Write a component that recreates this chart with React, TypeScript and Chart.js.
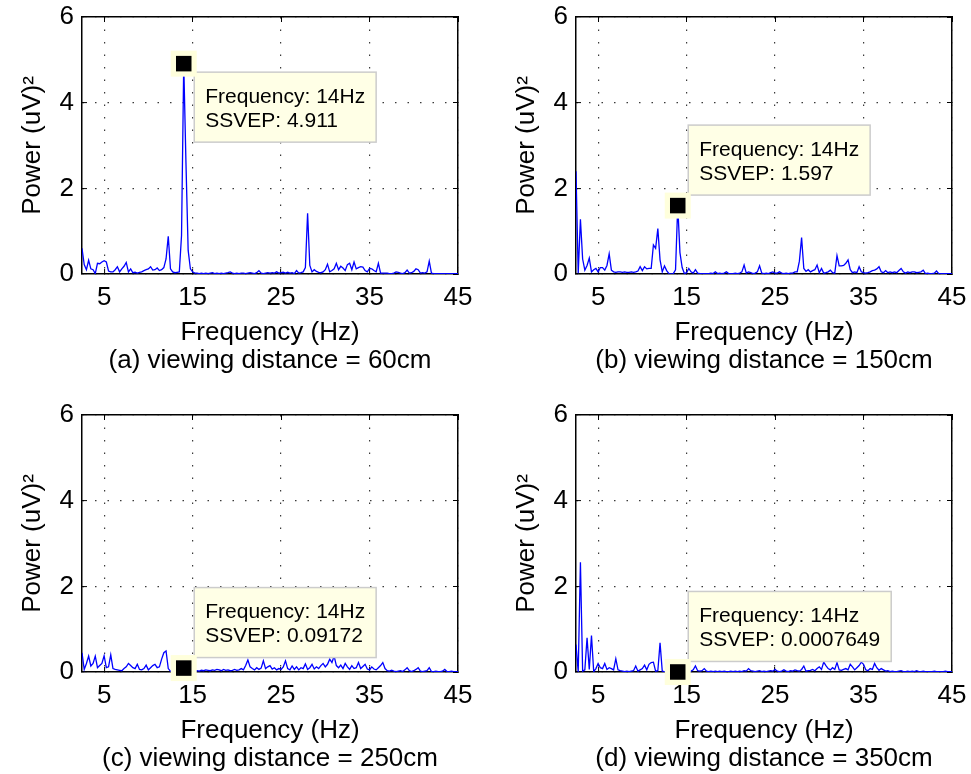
import React, { useEffect, useRef } from 'react';
import { Chart, registerables } from 'chart.js';

Chart.register(...registerables);

const FONT = "'Liberation Sans', Arial, Helvetica, sans-serif";

// Spectrum sampling: 2.5 Hz to 45 Hz in 0.25 Hz bins
const FREQ_START = 2.5;
const FREQ_STEP = 0.25;
const X_MIN = 2.5;
const X_MAX = 45;
const X_TICKS = [5, 15, 25, 35, 45];
const Y_TICKS = [0, 2, 4, 6];
const STIM_FREQ = 14;

// Power spectra (uV)^2, one row per Hz (x.00, x.25, x.50, x.75)
const POWER_60CM = [
  0.60, 0.22, // 2.5
  0.10, 0.32, 0.12, 0.10, // 3
  0.01, 0.25, 0.24, 0.28, // 4
  0.31, 0.28, 0.07, 0.05, // 5
  0.05, 0.10, 0.17, 0.05, // 6
  0.12, 0.18, 0.27, 0.05, // 7
  0.12, 0.03, 0.04, 0.02, // 8
  0.04, 0.05, 0.08, 0.10, // 9
  0.12, 0.17, 0.09, 0.10, // 10
  0.14, 0.08, 0.10, 0.15, // 11
  0.35, 0.88, 0.12, 0.05, // 12
  0.03, 0.04, 0.05, 0.90, // 13
  4.911, 2.60, 0.55, 0.12, // 14
  0.05, 0.02, 0.02, 0.01, // 15
  0.02, 0.01, 0.02, 0.01, // 16
  0.02, 0.03, 0.01, 0.02, // 17
  0.01, 0.02, 0.01, 0.02, // 18
  0.03, 0.05, 0.02, 0.01, // 19
  0.02, 0.01, 0.02, 0.02, // 20
  0.01, 0.02, 0.03, 0.02, // 21
  0.01, 0.03, 0.08, 0.02, // 22
  0.01, 0.02, 0.03, 0.02, // 23
  0.03, 0.02, 0.05, 0.02, // 24
  0.03, 0.04, 0.02, 0.04, // 25
  0.02, 0.03, 0.01, 0.08, // 26
  0.02, 0.03, 0.05, 0.15, // 27
  1.42, 0.20, 0.05, 0.10, // 28
  0.06, 0.04, 0.03, 0.05, // 29
  0.10, 0.23, 0.05, 0.08, // 30
  0.12, 0.25, 0.10, 0.18, // 31
  0.14, 0.08, 0.22, 0.25, // 32
  0.10, 0.28, 0.12, 0.15, // 33
  0.17, 0.16, 0.08, 0.05, // 34
  0.13, 0.12, 0.08, 0.05, // 35
  0.25, 0.02, 0.02, 0.02, // 36
  0.02, 0.01, 0.01, 0.02, // 37
  0.05, 0.04, 0.02, 0.01, // 38
  0.03, 0.09, 0.02, 0.03, // 39
  0.06, 0.12, 0.10, 0.02, // 40
  0.03, 0.02, 0.05, 0.30, // 41
  0.02, 0.01, 0.01, 0.01, // 42
  0.01, 0.01, 0.01, 0.01, // 43
  0.01, 0.01, 0.01, 0.01, // 44
  0.01, // 45
];

const POWER_150CM = [
  2.40, 0.02, // 2.5
  1.28, 0.35, 0.09, 0.20, // 3
  0.37, 0.05, 0.10, 0.13, // 4
  0.05, 0.15, 0.15, 0.09, // 5
  0.20, 0.47, 0.09, 0.05, // 6
  0.04, 0.05, 0.05, 0.04, // 7
  0.05, 0.04, 0.04, 0.05, // 8
  0.04, 0.05, 0.07, 0.17, // 9
  0.08, 0.17, 0.12, 0.13, // 10
  0.13, 0.68, 0.60, 1.06, // 11
  0.33, 0.05, 0.19, 0.08, // 12
  0.01, 0.00, 0.01, 0.10, // 13
  1.597, 0.50, 0.15, 0.01, // 14
  0.03, 0.13, 0.05, 0.02, // 15
  0.10, 0.02, 0.01, 0.01, // 16
  0.01, 0.01, 0.01, 0.02, // 17
  0.01, 0.05, 0.01, 0.02, // 18
  0.01, 0.02, 0.05, 0.01, // 19
  0.01, 0.01, 0.02, 0.01, // 20
  0.02, 0.05, 0.21, 0.02, // 21
  0.05, 0.03, 0.01, 0.02, // 22
  0.05, 0.19, 0.02, 0.01, // 23
  0.02, 0.01, 0.03, 0.05, // 24
  0.02, 0.02, 0.05, 0.02, // 25
  0.01, 0.02, 0.01, 0.02, // 26
  0.02, 0.05, 0.05, 0.30, // 27
  0.85, 0.13, 0.06, 0.10, // 28
  0.05, 0.08, 0.10, 0.21, // 29
  0.03, 0.13, 0.02, 0.03, // 30
  0.05, 0.09, 0.03, 0.02, // 31
  0.43, 0.19, 0.19, 0.20, // 32
  0.25, 0.33, 0.10, 0.03, // 33
  0.05, 0.03, 0.17, 0.05, // 34
  0.03, 0.02, 0.03, 0.05, // 35
  0.08, 0.09, 0.12, 0.17, // 36
  0.05, 0.03, 0.08, 0.03, // 37
  0.05, 0.03, 0.05, 0.03, // 38
  0.08, 0.13, 0.05, 0.02, // 39
  0.05, 0.03, 0.05, 0.05, // 40
  0.03, 0.04, 0.05, 0.09, // 41
  0.01, 0.02, 0.01, 0.01, // 42
  0.02, 0.07, 0.01, 0.01, // 43
  0.01, 0.01, 0.01, 0.01, // 44
  0.01, // 45
];

const POWER_250CM = [
  0.45, 0.06, // 2.5
  0.20, 0.37, 0.14, 0.20, // 3
  0.37, 0.10, 0.15, 0.20, // 4
  0.38, 0.10, 0.12, 0.40, // 5
  0.08, 0.06, 0.05, 0.04, // 6
  0.03, 0.08, 0.12, 0.20, // 7
  0.15, 0.10, 0.08, 0.18, // 8
  0.06, 0.05, 0.08, 0.16, // 9
  0.05, 0.10, 0.15, 0.18, // 10
  0.10, 0.12, 0.30, 0.45, // 11
  0.49, 0.08, 0.02, 0.01, // 12
  0.01, 0.01, 0.02, 0.03, // 13
  0.09172, 0.02, 0.01, 0.01, // 14
  0.01, 0.02, 0.03, 0.02, // 15
  0.04, 0.03, 0.05, 0.04, // 16
  0.03, 0.05, 0.04, 0.06, // 17
  0.05, 0.03, 0.06, 0.04, // 18
  0.05, 0.03, 0.04, 0.06, // 19
  0.04, 0.05, 0.08, 0.05, // 20
  0.15, 0.28, 0.12, 0.08, // 21
  0.05, 0.10, 0.06, 0.09, // 22
  0.26, 0.08, 0.12, 0.15, // 23
  0.07, 0.10, 0.05, 0.08, // 24
  0.06, 0.12, 0.26, 0.08, // 25
  0.05, 0.14, 0.06, 0.12, // 26
  0.05, 0.10, 0.08, 0.19, // 27
  0.06, 0.10, 0.18, 0.07, // 28
  0.12, 0.08, 0.15, 0.20, // 29
  0.12, 0.18, 0.30, 0.22, // 30
  0.37, 0.15, 0.10, 0.16, // 31
  0.08, 0.20, 0.12, 0.06, // 32
  0.15, 0.08, 0.10, 0.22, // 33
  0.08, 0.13, 0.18, 0.07, // 34
  0.05, 0.12, 0.07, 0.05, // 35
  0.10, 0.15, 0.22, 0.08, // 36
  0.03, 0.02, 0.04, 0.02, // 37
  0.01, 0.02, 0.03, 0.01, // 38
  0.05, 0.10, 0.03, 0.01, // 39
  0.03, 0.06, 0.10, 0.02, // 40
  0.01, 0.02, 0.03, 0.10, // 41
  0.01, 0.01, 0.02, 0.01, // 42
  0.01, 0.02, 0.06, 0.01, // 43
  0.01, 0.02, 0.01, 0.01, // 44
  0.01, // 45
];

const POWER_350CM = [
  0.64, 0.00, // 2.5
  2.56, 0.02, 0.05, 0.80, // 3
  0.06, 0.85, 0.01, 0.08, // 4
  0.20, 0.10, 0.08, 0.20, // 5
  0.06, 0.10, 0.08, 0.05, // 6
  0.31, 0.05, 0.03, 0.02, // 7
  0.01, 0.02, 0.01, 0.02, // 8
  0.03, 0.14, 0.02, 0.05, // 9
  0.08, 0.16, 0.05, 0.18, // 10
  0.22, 0.23, 0.02, 0.03, // 11
  0.68, 0.02, 0.01, 0.01, // 12
  0.01, 0.01, 0.01, 0.01, // 13
  0.0007649, 0.01, 0.02, 0.01, // 14
  0.02, 0.01, 0.02, 0.05, // 15
  0.14, 0.03, 0.02, 0.03, // 16
  0.08, 0.02, 0.01, 0.02, // 17
  0.01, 0.02, 0.01, 0.02, // 18
  0.01, 0.02, 0.01, 0.01, // 19
  0.02, 0.01, 0.02, 0.01, // 20
  0.02, 0.01, 0.03, 0.02, // 21
  0.08, 0.03, 0.02, 0.01, // 22
  0.02, 0.03, 0.01, 0.02, // 23
  0.01, 0.02, 0.03, 0.02, // 24
  0.06, 0.02, 0.01, 0.02, // 25
  0.05, 0.02, 0.01, 0.03, // 26
  0.02, 0.05, 0.03, 0.02, // 27
  0.06, 0.14, 0.02, 0.03, // 28
  0.04, 0.06, 0.03, 0.08, // 29
  0.12, 0.06, 0.23, 0.15, // 30
  0.08, 0.05, 0.10, 0.06, // 31
  0.22, 0.05, 0.04, 0.06, // 32
  0.08, 0.05, 0.18, 0.12, // 33
  0.05, 0.10, 0.15, 0.23, // 34
  0.18, 0.05, 0.03, 0.08, // 35
  0.06, 0.20, 0.10, 0.04, // 36
  0.08, 0.05, 0.02, 0.03, // 37
  0.01, 0.02, 0.01, 0.01, // 38
  0.02, 0.03, 0.01, 0.01, // 39
  0.02, 0.01, 0.02, 0.01, // 40
  0.03, 0.01, 0.01, 0.02, // 41
  0.01, 0.01, 0.01, 0.01, // 42
  0.02, 0.01, 0.01, 0.01, // 43
  0.01, 0.02, 0.01, 0.01, // 44
  0.01, // 45
];

const CAPTIONS = [
  '(a) viewing distance = 60cm',
  '(b) viewing distance = 150cm',
  '(c) viewing distance = 250cm',
  '(d) viewing distance = 350cm',
];

const X_TITLE = 'Frequency (Hz)';
const Y_TITLE = 'Power (uV)\u00B2';

// Canvas placement and data-tip side for each subplot
const PANELS = [
  { series: POWER_60CM, caption: CAPTIONS[0], left: 0, top: 0, tipSide: 'below' },
  { series: POWER_150CM, caption: CAPTIONS[1], left: 494, top: 0, tipSide: 'above' },
  { series: POWER_250CM, caption: CAPTIONS[2], left: 0, top: 398, tipSide: 'above' },
  { series: POWER_350CM, caption: CAPTIONS[3], left: 494, top: 398, tipSide: 'above' },
];

const CANVAS_W = 477;
const CANVAS_H = 380;

// MATLAB-style data tip: highlighted square marker plus a pale yellow label box
const datatipPlugin = {
  id: 'datatip',
  afterDraw(chart: any, _args: any, opts: any) {
    const { ctx, scales } = chart;
    const mx = scales.x.getPixelForValue(opts.freq);
    const my = scales.y.getPixelForValue(opts.value);
    const lines = [`Frequency: ${opts.freq}Hz`, `SSVEP: ${opts.value}`];
    ctx.save();
    ctx.font = `21px ${FONT}`;
    const tw = Math.max(...lines.map((l) => ctx.measureText(l).width));
    const bw = tw + 22;
    const bh = 70;
    const bx = mx + 10.5;
    const by = opts.side === 'below' ? my + 8.5 : my - 10.5 - bh;
    ctx.fillStyle = '#ffffe6';
    ctx.fillRect(bx, by, bw, bh);
    ctx.strokeStyle = '#cccccc';
    ctx.lineWidth = 1.5;
    ctx.strokeRect(bx, by, bw, bh);
    ctx.fillStyle = '#000';
    ctx.textAlign = 'left';
    ctx.textBaseline = 'alphabetic';
    ctx.fillText(lines[0], bx + 11, by + 30.7);
    ctx.fillText(lines[1], bx + 11, by + 54.7);
    ctx.fillStyle = '#ffffdc';
    ctx.fillRect(mx - 13, my - 13, 26, 26);
    ctx.fillStyle = '#000';
    ctx.fillRect(mx - 7.75, my - 7.75, 15.5, 15.5);
    ctx.restore();
  },
};

const tickFont = { family: FONT, size: 26, lineHeight: 1 };
const setTicks = (values: number[]) => (scale: any) => {
  scale.ticks = values.map((v) => ({ value: v }));
};
// Fix an axis box to a given size and drop the extra label overhang padding
const fixSize = (dim: 'width' | 'height', size: number) => (scale: any) => {
  scale[dim] = size;
  scale.paddingLeft = 0;
  scale.paddingRight = 0;
  scale.paddingTop = 0;
  scale.paddingBottom = 0;
};

function SpectrumPanel({ panel }: { panel: any }) {
  const ref = useRef<HTMLCanvasElement | null>(null);

  useEffect(() => {
    const canvas = ref.current;
    if (!canvas) return;
    const points = panel.series.map((v: number, i: number) => ({ x: FREQ_START + i * FREQ_STEP, y: v }));
    const tipIndex = Math.round((STIM_FREQ - FREQ_START) / FREQ_STEP);
    const tipValue = panel.series[tipIndex];

    const gridStyle = {
      color: '#3a3a3a',
      lineWidth: 1.2,
      drawTicks: true,
      tickLength: -5,
      tickColor: '#000',
      tickWidth: 1,
      tickBorderDash: [],
    };

    const chart = new Chart(canvas, {
      type: 'line',
      data: {
        datasets: [
          {
            data: points,
            borderColor: '#0000ff',
            borderWidth: 1.3,
            pointRadius: 0,
            tension: 0,
            fill: false,
            xAxisID: 'x',
            yAxisID: 'y',
          },
        ],
      },
      options: {
        animation: false,
        responsive: false,
        devicePixelRatio: 1,
        layout: { padding: { left: 0, right: 19, top: 17, bottom: 0 } },
        scales: {
          x: {
            type: 'linear',
            position: 'bottom',
            min: X_MIN,
            max: X_MAX,
            afterBuildTicks: setTicks(X_TICKS),
            afterFit: fixSize('height', 71.4),
            ticks: { font: tickFont, color: '#000', padding: 15.7, maxRotation: 0, autoSkip: false },
            grid: gridStyle,
            border: { display: true, color: '#000', width: 1.5, dash: [1.5, 11] },
            title: {
              display: true,
              text: X_TITLE,
              color: '#000',
              font: { family: FONT, size: 26, lineHeight: 1 },
              padding: { top: 0, bottom: 0 },
            },
          },
          y: {
            type: 'linear',
            position: 'left',
            min: 0,
            max: 6,
            afterBuildTicks: setTicks(Y_TICKS),
            afterFit: fixSize('width', 82),
            ticks: { font: tickFont, color: '#000', padding: 13 },
            grid: gridStyle,
            border: { display: true, color: '#000', width: 1.5, dash: [1.5, 11] },
            title: {
              display: true,
              text: Y_TITLE,
              color: '#000',
              font: { family: FONT, size: 26, lineHeight: 1 },
              padding: { top: 19.7, bottom: 0 },
            },
          },
          xTop: {
            type: 'linear',
            axis: 'x',
            position: 'top',
            min: X_MIN,
            max: X_MAX,
            afterBuildTicks: setTicks(X_TICKS),
            afterFit: fixSize('height', 0),
            ticks: { display: false },
            grid: { drawOnChartArea: false, drawTicks: true, tickLength: -5, tickColor: '#000', tickWidth: 1 },
            border: { display: true, color: '#000', width: 1.5 },
          },
          yRight: {
            type: 'linear',
            axis: 'y',
            position: 'right',
            min: 0,
            max: 6,
            afterBuildTicks: setTicks(Y_TICKS),
            afterFit: fixSize('width', 0),
            ticks: { display: false },
            grid: { drawOnChartArea: false, drawTicks: true, tickLength: -5, tickColor: '#000', tickWidth: 1 },
            border: { display: true, color: '#000', width: 1.5 },
          },
        },
        plugins: {
          legend: { display: false },
          tooltip: { enabled: false },
          title: {
            display: true,
            position: 'bottom',
            fullSize: false,
            text: panel.caption,
            color: '#000',
            font: { family: FONT, size: 26, weight: 'normal', lineHeight: 1.2 },
            padding: { top: 0, bottom: 3.4 },
          },
          datatip: { freq: STIM_FREQ, value: tipValue, side: panel.tipSide },
        } as any,
      },
      plugins: [datatipPlugin],
    } as any);

    return () => chart.destroy();
  }, [panel]);

  return (
    <canvas
      ref={ref}
      width={CANVAS_W}
      height={CANVAS_H}
      style={{ position: 'absolute', left: panel.left, top: panel.top, width: CANVAS_W, height: CANVAS_H }}
    />
  );
}

export default function App() {
  return (
    <div
      style={{
        position: 'fixed',
        left: 0,
        top: 0,
        width: 971,
        height: 774,
        background: '#fff',
        overflow: 'hidden',
      }}
    >
      {PANELS.map((p, i) => (
        <SpectrumPanel key={i} panel={p} />
      ))}
    </div>
  );
}
